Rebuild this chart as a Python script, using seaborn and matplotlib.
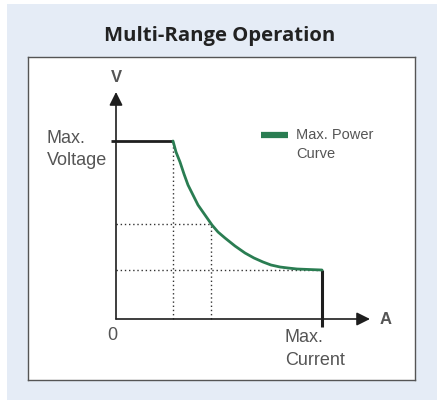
import numpy as np
import pandas as pd
import matplotlib
matplotlib.use('Agg')
import matplotlib.pyplot as plt
import seaborn as sns
from matplotlib.patches import Rectangle

# Chart values (current / voltage in drawing units, origin at 0,0)
curve_current = [57, 60, 64, 68, 72, 77, 82, 89, 96, 102, 109, 119, 129, 138, 147, 155, 164, 172, 181, 193, 206]
curve_voltage = [178, 167, 157, 145, 134, 124, 114, 104, 94, 87, 81, 73, 66, 61, 57, 54, 52, 51, 50, 49.5, 49]
max_voltage = 178
max_current = 206
knee_current = 57
mid_current = 95
mid_voltage = 95
low_voltage = 49
axis_top = 227
axis_right = 254

title = 'Multi-Range Operation'
legend_label = 'Max. Power\nCurve'

sns.set_theme(style='white')
plt.rcParams['font.family'] = ['Liberation Sans', 'DejaVu Sans']

W, H = 440, 400
fig = plt.figure(figsize=(4.4, 4.0), dpi=100, facecolor='white')

# light blue panel (behind the axes)
fig.patches.append(Rectangle((7 / W, 0), 430 / W, 396 / H, transform=fig.transFigure,
                             facecolor='#e5ecf6', edgecolor='none', zorder=-5))

fig.text(0.5, 1 - 36 / H, title, ha='center', va='center', fontsize=14.6,
         fontweight='bold', color='#222222', family=['Open Sans', 'DejaVu Sans'])

ax = fig.add_axes([28 / W, 20 / H, 387 / W, 323 / H])
ax.set_facecolor('white')
for s in ax.spines.values():
    s.set_color('#555555')
    s.set_linewidth(1.0)
ax.set_xlim(-88, 299)
ax.set_ylim(-61, 262)
ax.set_xticks([])
ax.set_yticks([])

dark = '#1e1e1e'
green = '#2a7d52'
gray = '#555555'

# dotted guide lines
dot = dict(color='#333333', lw=1.0, ls=(0, (1, 2)), zorder=1)
ax.plot([0, mid_current], [mid_voltage] * 2, **dot)
ax.plot([0, max_current], [low_voltage] * 2, **dot)
ax.plot([knee_current] * 2, [0, max_voltage], **dot)
ax.plot([mid_current] * 2, [0, mid_voltage], **dot)

# axes with arrows
arrow = dict(arrowstyle='-|>', color=dark, lw=1.2, mutation_scale=20, shrinkA=0, shrinkB=0)
ax.annotate('', xy=(0, axis_top), xytext=(0, 0), arrowprops=arrow)
ax.annotate('', xy=(axis_right, 0), xytext=(0, 0), arrowprops=arrow)

# limits
ax.plot([-5, knee_current], [max_voltage] * 2, color=dark, lw=2.0, zorder=3,
        solid_capstyle='butt')
ax.plot([max_current] * 2, [-8, low_voltage], color=dark, lw=2.2, zorder=3,
        solid_capstyle='butt')

df = pd.DataFrame({'current': curve_current, 'voltage': curve_voltage})
sns.lineplot(data=df, x='current', y='voltage', ax=ax, color=green, lw=2.0,
             label=legend_label, zorder=4, sort=False)
ax.set_xlabel('')
ax.set_ylabel('')

leg = ax.legend(loc='upper left', bbox_to_anchor=(0.584, 1 - 64 / 323), frameon=False,
                fontsize=10.5, handlelength=1.85, handletextpad=0.55, borderpad=0,
                labelspacing=0)
for t in leg.get_texts():
    t.set_color(gray)
    t.set_linespacing(1.45)
for h in leg.get_lines():
    h.set_linewidth(4.5)
    h.set_solid_capstyle('butt')
    # put the swatch beside the first text line
    h.set_ydata(np.asarray(h.get_ydata()) + 7.6)

ax.text(0, axis_top + 15, 'V', ha='center', va='center', fontsize=12, fontweight='bold', color=gray)
ax.text(axis_right + 16, 0, 'A', ha='center', va='center', fontsize=12, fontweight='bold', color=gray)
ax.text(-4, -16, '0', ha='center', va='center', fontsize=13, color=gray)
ax.text(-69, max_voltage + 11, 'Max.\nVoltage', ha='left', va='top', fontsize=13,
        color=gray, linespacing=1.35)
ax.text(max_current - 37, -10, 'Max.\nCurrent', ha='left', va='top', fontsize=13,
        color=gray, linespacing=1.45)

fig.savefig('out.png', dpi=100, facecolor='white')
